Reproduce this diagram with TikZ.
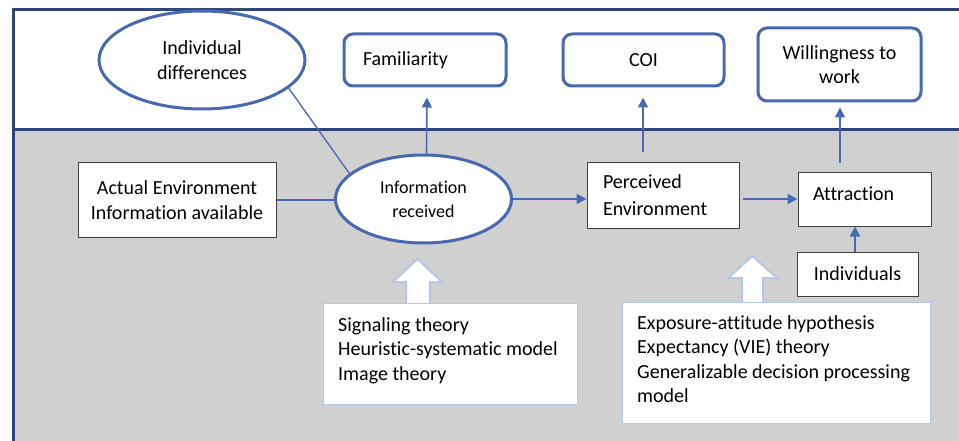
\documentclass[tikz,border=0pt]{standalone}
\usepackage{fontspec}
\setmainfont[Ligatures=NoCommon]{Carlito}
\usetikzlibrary{shapes.geometric,arrows.meta}
\definecolor{navy}{RGB}{47,70,125}
\definecolor{accent}{RGB}{72,104,176}
\definecolor{bgray}{RGB}{208,208,208}
\definecolor{lblue}{RGB}{180,199,231}
\definecolor{boxline}{RGB}{64,64,64}
\begin{document}
\begin{tikzpicture}[x=1pt,y=-1pt,
  every node/.style={font=\fontsize{20}{24.5}\selectfont, inner sep=0pt},
  rbox/.style={draw=accent, line width=3pt, rounded corners=9pt, fill=white},
  oval/.style={ellipse, draw=accent, line width=3pt, fill=white, align=center},
  pbox/.style={draw=boxline, line width=1pt, fill=white},
  tbox/.style={draw=lblue, line width=1.2pt, fill=white},
  conn/.style={draw=accent, line width=1.6pt},
  arr/.style={conn, -{Triangle[length=10pt,width=10pt]}},
  blk/.style={draw=lblue, line width=2pt, fill=white, line join=miter},
  frame/.style={draw=navy, line width=3pt}
]
\useasboundingbox (0,0) rectangle (959,441);
\fill[white] (0,0) rectangle (959,441);
\fill[bgray] (13,130) rectangle (959,441);
\draw[frame] (959,10) -- (13,10) -- (13,441);
\draw[frame] (13,130) -- (959,130);

% top row
\node[oval, minimum width=206, minimum height=98] (id) at (202,60) {Individual\\differences};
\node[rbox, minimum width=162, minimum height=52, text width=124, align=left] (fam) at (425,60) {Familiarity};
\node[rbox, minimum width=161, minimum height=52] (coi) at (643.5,60) {COI};
\node[rbox, minimum width=163, minimum height=73, align=center] (wil) at (839.5,64.5) {Willingness to\\work};

% middle row
\node[pbox, minimum width=198, minimum height=74, align=center] (act) at (177,200) {Actual Environment\\Information available};
\node[oval, minimum width=176, minimum height=88, font=\fontsize{18}{24}\selectfont] (info) at (423.5,199) {Information\\received};
\node[pbox, minimum width=152, minimum height=65, text width=120, align=left, font=\fontsize{20}{27}\selectfont] (pe) at (663,195.5) {Perceived\\Environment};
\node[pbox, minimum width=133, minimum height=53, text width=103, align=left, text height=13pt, text depth=11pt] (attr) at (864.5,199.5) {Attraction};
\node[pbox, minimum width=121, minimum height=44] (ind) at (857.5,274) {Individuals};

% block arrows
\draw[blk] (406,304) -- (406,282) -- (393,282) -- (417.5,259) -- (442,282) -- (430,282) -- (430,304);
\draw[blk] (742,303) -- (742,278) -- (728,278) -- (752.5,256) -- (777,278) -- (763,278) -- (763,303);

% theory boxes
\node[tbox, anchor=north west, minimum width=254, minimum height=101] (thl) at (323,303) {};
\node[anchor=north west, align=left] (thltxt) at (338,315) {\rule{0pt}{16pt}Signaling theory\\Heuristic-systematic model\\Image theory};
\node[tbox, anchor=north west, minimum width=308, minimum height=121] (thr) at (622,302) {};
\node[anchor=north west, align=left] (thrtxt) at (637,313) {\rule{0pt}{16pt}Exposure-attitude hypothesis\\Expectancy (VIE) theory\\Generalizable decision processing\\model};

% connectors
\coordinate (coiin) at (643,152);
\coordinate (wilin) at (840,163);
\draw[conn, line width=1.3pt] (id.-18) -- (info.161);
\draw[conn] (act.east) -- (act.east -| info.west);
\draw[arr] (info.east) -- (info.east -| pe.west);
\draw[arr, shorten <=3pt] (pe.east |- info.east) -- (info.east -| attr.west);
\draw[arr] ([xshift=-2.5pt]ind.north) -- ([xshift=-2.5pt]ind.north |- attr.south);
\draw[arr, shorten >=10pt] ([xshift=3pt]info.north) -- ([xshift=2pt]fam.south);
\draw[arr, shorten >=10pt] (coiin) -- (coiin |- coi.south);
\draw[arr, shorten >=5pt] (wilin) -- (wilin |- wil.south);
\end{tikzpicture}
\end{document}
